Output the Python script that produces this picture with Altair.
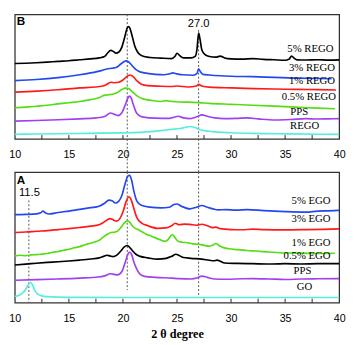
import altair as alt
import pandas as pd

# ---------------- axis ticks ----------------
X_TICKS = [10, 15, 20, 25, 30, 35, 40]
MINOR_TICKS = [12.5, 15, 17.5, 20, 22.5, 25, 27.5, 30, 32.5, 35, 37.5]

# ---------------- Panel B (REGO) ----------------
b5_x = [10, 11, 12, 13, 14, 15, 16, 17, 17.8, 18.3, 18.6, 18.85, 19.1, 19.35, 19.6, 19.9, 20.15, 20.35, 20.5, 20.65,
        20.85, 21.1, 21.4, 21.8, 22.5, 23.5, 24.5, 24.8, 25.0, 25.25, 25.6, 26.3, 26.7, 26.85, 27.0, 27.15, 27.3,
        27.6, 28.0, 28.6, 29.0, 29.4, 30, 31, 32, 33, 34, 35, 35.35, 35.6, 35.85, 36.1, 37, 38, 39, 40]
b5_y = [80.5, 80.8, 81.3, 82, 82.8, 83.5, 84.5, 85.5, 86.5, 88, 92, 94.5, 93.5, 91.5, 92.5, 98, 108, 117, 120, 118,
        110, 99, 92, 88.5, 87, 86.3, 85.8, 88, 91.5, 89, 86.5, 86.5, 88.5, 96, 113, 105, 95,
        90, 88, 87.3, 88.5, 86.5, 85.5, 85.3, 85.8, 85, 84.5, 84, 85, 88.5, 86, 84.5, 84.3, 84.6, 84.2, 84.5]

b3_x = [10, 12, 14, 16, 17, 18, 18.6, 19.0, 19.4, 19.8, 20.1, 20.3, 20.5, 20.8, 21.1, 21.5, 22, 23, 23.8, 24.3, 24.6,
        25.0, 25.5, 26.5, 26.85, 27.0, 27.15, 27.4, 28, 29, 30, 32, 34, 36, 38, 39.3]
b3_y = [62.3, 63.5, 65.5, 68.5, 70.5, 73, 75, 75.5, 76.5, 80, 82.5, 83.3, 82.5, 79, 75, 72, 70.5, 69, 68.5, 69.5, 70.5,
        69.5, 68.5, 68, 70, 75, 72, 69, 68.3, 67.5, 67, 66.5, 65.7, 65, 64.5, 64.3]

b1_x = [10, 12, 14, 16, 17.5, 18.3, 18.9, 19.2, 19.6, 20.0, 20.35, 20.65, 20.95, 21.3, 21.7, 22.3, 23.5, 24.5, 25.0,
        26, 26.8, 27.0, 27.3, 28, 30, 32, 34, 36, 38, 39.7]
b1_y = [50, 51, 52.5, 54.5, 55.5, 57, 60.5, 60, 60.5, 63, 66.5, 68.3, 66.5, 62, 58.5, 57, 56.3, 56, 56.5,
        55.5, 56.5, 58.3, 56.5, 55.3, 54.5, 53.8, 53.3, 53, 52.6, 52.3]

b05_x = [10, 11, 12, 13, 14, 15, 16, 17, 17.8, 18.1, 18.5, 19.0, 19.4, 19.8, 20.1, 20.3, 20.55, 20.9, 21.3, 21.8,
         22.5, 23.5, 24.0, 24.2, 24.6, 25.3, 26, 27, 28, 30, 32, 34, 36, 38, 39.6]
b05_y = [33.3, 34, 35, 36, 37.5, 38.7, 40, 42, 44, 46, 47, 47.7, 49, 52, 54, 54.3, 53.5, 50, 46, 43,
         41.5, 40, 41, 40.5, 40, 39.5, 39.3, 38.8, 38, 37, 36, 35, 34, 33, 32.3]

bpps_x = [10, 12, 14, 16, 17.5, 18.3, 18.85, 19.2, 19.55, 19.9, 20.2, 20.45, 20.6, 20.75, 20.95, 21.2, 21.5, 21.9,
          23, 24.3, 24.8, 25.1, 25.6, 26.2, 26.9, 27.3, 27.8, 28.5, 29.4, 30.5, 31.5, 32.5, 34, 35.5, 36.9, 38, 39, 40]
bpps_y = [19, 19.7, 20.5, 21.5, 22.5, 24, 27.7, 26.3, 25, 28, 36, 43.5, 45.7, 44, 37, 29, 25, 23.3,
          22.2, 22, 23.5, 24.3, 22.5, 21.7, 24, 25.7, 24.3, 22.5, 21.7, 22, 22.5, 21.5, 20.3, 20.8, 21.8, 21.3, 21.5, 21.7]

brego_x = [10, 12, 14, 16, 18, 20, 21.5, 22.5, 23.5, 24.5, 25.3, 25.8, 26.2, 26.6, 27.0, 27.5, 28.5, 30, 32, 35, 38, 40]
brego_y = [5, 5.3, 5.6, 5.9, 6.2, 6.6, 7, 7.8, 9, 10.3, 11.2, 12.5, 13.3, 12.5, 10.5, 9, 7.6, 6.7, 6, 5.5, 5.1, 5]

B_NAMES = ["5% REGO", "3% REGO", "1% REGO", "0.5% REGO", "PPS", "REGO"]
B_COLORS = ["#000000", "#2448f0", "#ff1a1a", "#55dd11", "#a040f0", "#55eedd"]
B_XS = [b5_x, b3_x, b1_x, b05_x, bpps_x, brego_x]
B_YS = [b5_y, b3_y, b1_y, b05_y, bpps_y, brego_y]

# curve labels of panel B
B_LAB_R_TEXT = ["5% REGO", "3% REGO", "1% REGO", "0.5% REGO"]
B_LAB_R_X = [39.47, 39.62, 39.62, 39.7]
B_LAB_R_Y = [95.7, 75.7, 61.7, 44.3]
B_LAB_C_TEXT = ["PPS", "REGO"]
B_LAB_C_X = [36.3, 36.8]
B_LAB_C_Y = [28.3, 13.3]

# ---------------- Panel A (EGO) ----------------
a5_x = [10, 11, 12, 12.4, 12.6, 12.85, 13.2, 14, 15, 16, 17, 17.8, 18.3, 18.7, 19.0, 19.3, 19.6, 19.9, 20.2, 20.45,
        20.6, 20.8, 21.0, 21.3, 21.7, 22.5, 23.5, 24.3, 24.7, 25.0, 25.4, 26.2, 26.8, 27.3, 27.8, 28.4, 28.8, 29.5,
        30.5, 31.5, 33, 35, 36.9, 38, 39, 40]
a5_y = [90.3, 90.6, 91.2, 92.3, 94, 92, 91, 92.5, 94, 95.8, 97.5, 99, 102, 105.3, 104.5, 102.3, 104, 110, 122, 130,
        130.7, 126, 115, 104, 100, 98, 97.3, 98, 100.7, 101.3, 99, 96.3, 98, 99.7, 98, 96, 95.3, 95.5,
        95, 95.5, 94.5, 93.5, 93, 94, 94.3, 94.7]

a3_x = [10, 11, 12, 13, 14, 15, 16, 17, 17.8, 18.3, 18.8, 19.1, 19.4, 19.7, 20.0, 20.3, 20.55, 20.75, 21.0, 21.3,
        21.7, 22.3, 23.2, 24.0, 24.5, 24.85, 25.2, 25.7, 26.2, 26.8, 27.3, 27.8, 28.3, 28.6, 29.0, 30, 31, 32, 33,
        35, 37, 38.5, 40]
a3_y = [72, 72.5, 73.3, 74, 75, 76, 77.2, 78.5, 80, 83, 86.3, 85, 83.7, 86, 93, 104, 108.7, 106, 97, 87,
        82, 79, 76.3, 76.8, 79, 81.5, 80, 80.7, 80.3, 79.5, 80.5, 79, 77, 77.5, 76, 75, 74.8, 75.5, 75,
        74.7, 75, 75.3, 75.7]

a1_x = [10, 10.5, 11, 11.5, 12, 12.4, 13, 13.5, 14, 14.5, 15, 15.5, 16, 16.5, 17, 17.5, 17.8, 18.2, 18.6, 18.9, 19.2,
        19.5, 19.8, 20.1, 20.4, 20.6, 20.85, 21.1, 21.4, 21.8, 22.2, 22.6, 23.0, 23.5, 23.9, 24.2, 24.45, 24.6,
        24.8, 25.1, 25.5, 26, 26.5, 27, 27.5, 27.9, 28.3, 28.6, 28.9, 29.3, 29.8, 30.5, 31.5, 32.3, 33.5, 35,
        36.5, 38, 39.6]
a1_y = [48, 48.7, 48.2, 49, 49.3, 49.7, 50.5, 51.8, 52.5, 53.8, 54.8, 56.3, 57.5, 59.5, 61, 62.8, 64, 67.5, 70.5, 72,
        72.3, 73.5, 77, 81.5, 84, 83, 79, 76.5, 75, 72.5, 70, 68.5, 66.5, 64.3, 63, 65, 69, 69.7,
        67, 63, 62, 61.5, 60.3, 60, 58.8, 58, 59, 60.7, 58.5, 56.5, 55.3, 54.5, 53.5, 53, 52, 51,
        50.8, 50.5, 50.7]

a05_x = [10, 11, 12, 13, 14, 15, 16, 17, 17.8, 18.2, 18.5, 18.8, 19.1, 19.4, 19.8, 20.1, 20.38, 20.6, 20.9, 21.2,
         21.6, 22.3, 23.2, 24.0, 24.5, 24.9, 25.2, 25.6, 26.3, 27.3, 28.0, 28.4, 28.7, 29.0, 29.4, 30.5, 32, 33.8,
         35, 36.5, 38, 40]
a05_y = [38.7, 39.5, 40.5, 41.3, 42, 42.8, 43.7, 44.8, 46, 47.5, 48.7, 48, 47.3, 48.5, 53, 57, 58.7, 57, 53, 49.7,
         47.5, 46, 44.7, 45.5, 47.5, 49.7, 48.5, 46.3, 45.5, 44.7, 43.5, 43, 43.7, 42.5, 40.7, 40.3, 40, 39.7,
         40, 39.7, 40, 40]

apps_x = [10, 12, 14, 16, 17.7, 18.3, 18.85, 19.2, 19.5, 19.9, 20.2, 20.45, 20.6, 20.8, 21.0, 21.3, 21.6, 22.0, 23,
          24.5, 25.2, 26.3, 26.9, 27.3, 27.8, 28.5, 29.5, 31, 32, 33.5, 35, 36.5, 38, 40]
apps_y = [23, 23.6, 24.3, 25.2, 26.3, 27.5, 29.7, 29, 28.5, 32, 41, 49.5, 52, 49.5, 42, 34, 29, 27, 26,
          25.2, 24.7, 24.3, 25.5, 27.3, 26, 24.3, 24, 24.5, 24.7, 24.3, 23.8, 24.3, 24.5, 24.7]

ago_x = [10, 10.4, 10.7, 11.0, 11.25, 11.45, 11.65, 11.85, 12.1, 12.5, 13, 14, 16, 20, 30, 40]
ago_y = [6.3, 7.5, 9.7, 13.5, 18.5, 20.7, 18, 12.5, 9, 7, 6.2, 5.7, 5.4, 5.3, 5.3, 5.3]

A_NAMES = ["5% EGO", "3% EGO", "1% EGO", "0.5% EGO", "PPS", "GO"]
A_COLORS = ["#2448f0", "#ff1a1a", "#55dd11", "#000000", "#a040f0", "#55eedd"]
A_XS = [a5_x, a3_x, a1_x, a05_x, apps_x, ago_x]
A_YS = [a5_y, a3_y, a1_y, a05_y, apps_y, ago_y]

A_LAB_R_TEXT = ["5% EGO", "3% EGO", "1% EGO", "0.5% EGO"]
A_LAB_R_X = [39.2, 39.2, 39.2, 39.2]
A_LAB_R_Y = [104.7, 85.3, 60.7, 48]
A_LAB_C_TEXT = ["PPS", "GO"]
A_LAB_C_X = [36.6, 36.8]
A_LAB_C_Y = [32, 15.7]

W = 333
H_B = 128
H_A = 134
GAP = 34
SERIF = "Liberation Serif"
SANS = "Liberation Sans"
DOT = [2, 2]
DOT_COLOR = "#555555"


def make_df(names, colors, xs, ys):
    rows = []
    for n, c, xx, yy in zip(names, colors, xs, ys):
        for a, b in zip(xx, yy):
            rows.append({"series": n, "color": c, "x": a, "y": b})
    return pd.DataFrame(rows)


def panel(names, colors, xs, ys, ymax, height, lab_r, lab_c, letter, letter_y,
          peak_label, rules, title):
    df = make_df(names, colors, xs, ys)
    axis_kwargs = dict(values=X_TICKS, ticks=False, domain=False, grid=False, labelPadding=10,
                       labelFlush=False, labelFont=SANS, labelFontSize=11, labelColor="#000000", format="d")
    if title:
        axis_kwargs.update(title=title, titleFont=SERIF, titleFontSize=12.5, titleFontWeight="bold",
                           titleColor="#000000", titlePadding=5)
    else:
        axis_kwargs.update(title=None)
    xenc = alt.X("x:Q", scale=alt.Scale(domain=[10, 40], nice=False, zero=False),
                 axis=alt.Axis(**axis_kwargs))
    yscale = alt.Scale(domain=[0, ymax], nice=False, zero=False)

    lines = alt.Chart(df).mark_line(interpolate="monotone", strokeWidth=1.7).encode(
        x=xenc,
        y=alt.Y("y:Q", scale=yscale, axis=None),
        color=alt.Color("color:N", scale=None),
        detail="series:N",
    )
    layers = []
    for rx, y1, y2 in rules:
        layers.append(alt.Chart(pd.DataFrame({"x": [rx]})).mark_rule(
            strokeDash=DOT, color=DOT_COLOR, strokeWidth=1).encode(
            x="x:Q", y=alt.value(y1), y2=alt.value(y2)))
    layers.append(lines)
    ticks = alt.Chart(pd.DataFrame({"x": MINOR_TICKS})).mark_rule(color="#222222", strokeWidth=1).encode(
        x="x:Q", y=alt.value(height), y2=alt.value(height - 4))
    layers.append(ticks)
    tr = alt.Chart(pd.DataFrame({"x": lab_r[1], "y": lab_r[2], "t": lab_r[0]})).mark_text(
        align="right", baseline="middle", font=SERIF, fontSize=11, color="#000000").encode(
        x="x:Q", y=alt.Y("y:Q", scale=yscale), text="t:N")
    tc = alt.Chart(pd.DataFrame({"x": lab_c[1], "y": lab_c[2], "t": lab_c[0]})).mark_text(
        align="center", baseline="middle", font=SERIF, fontSize=11, color="#000000").encode(
        x="x:Q", y=alt.Y("y:Q", scale=yscale), text="t:N")
    layers += [tr, tc]
    pk = alt.Chart(pd.DataFrame({"x": [peak_label[1]], "y": [peak_label[2]], "t": [peak_label[0]]})).mark_text(
        align="center", baseline="middle", font=SANS, fontSize=11.5, color="#000000").encode(
        x="x:Q", y=alt.Y("y:Q", scale=yscale), text="t:N")
    lt = alt.Chart(pd.DataFrame({"t": [letter]})).mark_text(
        align="left", baseline="middle", font=SANS, fontSize=12, fontWeight="bold", color="#000000").encode(
        x=alt.value(2), y=alt.value(letter_y), text="t:N")
    layers += [pk, lt]
    return alt.layer(*layers).properties(width=W, height=height)


top = panel(B_NAMES, B_COLORS, B_XS, B_YS, 133, H_B,
            (B_LAB_R_TEXT, B_LAB_R_X, B_LAB_R_Y), (B_LAB_C_TEXT, B_LAB_C_X, B_LAB_C_Y),
            "B", 7, ("27.0", 27.0, 123),
            [(20.4, 0, H_B + GAP), (27.0, 16, H_B + GAP)], None)
bottom = panel(A_NAMES, A_COLORS, A_XS, A_YS, 134, H_A,
               (A_LAB_R_TEXT, A_LAB_R_X, A_LAB_R_Y), (A_LAB_C_TEXT, A_LAB_C_X, A_LAB_C_Y),
               "A", 8, ("11.5", 11.35, 112.3),
               [(20.4, 0, 121), (27.0, 0, 126), (11.3, 29, H_A)], "2 θ degree")

chart = alt.vconcat(top, bottom, spacing=GAP, bounds="flush").properties(padding=0).configure_view(
    stroke="#333333", strokeWidth=1.3)

chart.save("out.html", embed_options={"renderer": "svg", "actions": False})
